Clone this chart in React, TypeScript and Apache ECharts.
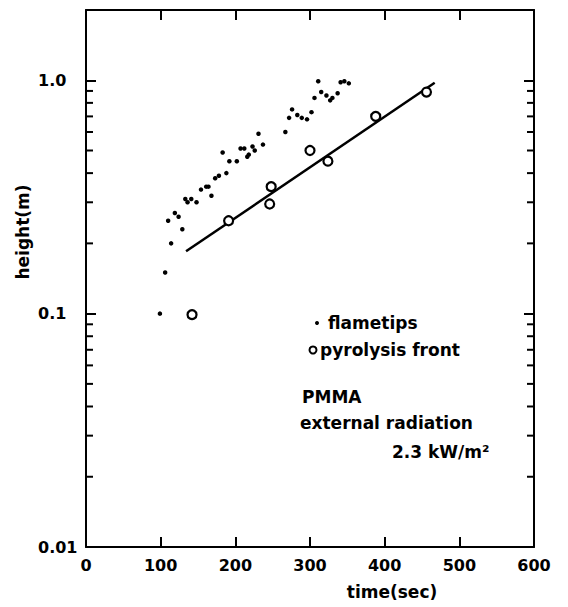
import React, { useEffect, useRef } from "react";
import * as echarts from "echarts";

// time (sec), height (m)
const flametipTimes = [99, 106, 114, 110, 119, 124, 129, 133, 136, 141, 148, 154, 161, 164, 168, 173, 178, 188, 183, 192, 202, 207, 212, 216, 218, 223, 226, 231, 237, 267, 272, 276, 283, 289, 296, 302, 306, 311, 315, 322, 327, 330, 337, 341, 346, 352];
const flametipHeights = [0.10, 0.15, 0.20, 0.25, 0.27, 0.26, 0.23, 0.31, 0.30, 0.31, 0.30, 0.34, 0.35, 0.35, 0.32, 0.38, 0.39, 0.40, 0.49, 0.45, 0.45, 0.51, 0.51, 0.47, 0.48, 0.52, 0.50, 0.59, 0.53, 0.60, 0.69, 0.75, 0.71, 0.69, 0.68, 0.73, 0.84, 0.99, 0.89, 0.86, 0.82, 0.84, 0.88, 0.98, 0.99, 0.97];

const pyrolysisTimes = [142, 191, 246, 248, 300, 324, 388, 456];
const pyrolysisHeights = [0.099, 0.25, 0.295, 0.35, 0.50, 0.45, 0.70, 0.89];

const fitTimes = [134, 467];
const fitHeights = [0.185, 0.975];

const xTickMin = 0;
const xTickMax = 600;
const xTickStep = 100;
const yMin = 0.01;
const yMax = 2;
const yTickLabels: Record<string, string> = { "0.01": "0.01", "0.1": "0.1", "1": "1.0" };
const minorTickValues = [0.02, 0.03, 0.04, 0.05, 0.06, 0.07, 0.08, 0.09, 0.2, 0.3, 0.4, 0.5, 0.6, 0.7, 0.8, 0.9];

const FONT = '"DejaVu Sans", sans-serif';

export default function App() {
  const ref = useRef<HTMLDivElement>(null);
  useEffect(() => {
    if (!ref.current) return;
    const chart = echarts.init(ref.current, null, { renderer: "svg" });
    const axisLine = { show: true, onZero: false, lineStyle: { color: "#000", width: 2 } };
    const labelFmt = (v: number) => {
      for (const k of Object.keys(yTickLabels)) {
        if (Math.abs(Math.log10(v) - Math.log10(parseFloat(k))) < 1e-6) return yTickLabels[k];
      }
      return "";
    };
    const xBase = {
      type: "value" as const,
      min: xTickMin,
      max: xTickMax,
      interval: xTickStep,
      axisLine,
      axisTick: { show: true, inside: true, length: 10, lineStyle: { color: "#000", width: 2 } },
      splitLine: { show: false },
    };
    const yBase = {
      type: "log" as const,
      logBase: 10,
      min: yMin,
      max: yMax,
      axisLine,
      axisTick: { show: true, inside: true, length: 10, lineStyle: { color: "#000", width: 2 } },
      splitLine: { show: false },
    };
    chart.setOption({
      animation: false,
      backgroundColor: "#fff",
      grid: { left: 86, right: 34, top: 10, bottom: 60, containLabel: false },
      xAxis: [
        {
          ...xBase,
          position: "bottom",
          axisLabel: { color: "#000", fontSize: 16, fontWeight: "bold", fontFamily: FONT, margin: 10 },
        },
        { ...xBase, position: "top", axisLabel: { show: false } },
      ],
      yAxis: [
        {
          ...yBase,
          position: "left",
          axisLabel: {
            color: "#000",
            fontSize: 16,
            fontWeight: "bold",
            fontFamily: FONT,
            align: "left",
            margin: 48,
            formatter: labelFmt,
          },
        },
        { ...yBase, position: "right", axisLabel: { show: false } },
      ],
      series: [
        {
          name: "minor ticks",
          type: "custom",
          xAxisIndex: 0,
          yAxisIndex: 0,
          silent: true,
          clip: false,
          encode: { x: 0, y: 1 },
          data: minorTickValues.map((v) => [xTickMin, v]),
          renderItem: (params: any, api: any) => {
            const v = api.value(1);
            const p0 = api.coord([xTickMin, v]);
            const p1 = api.coord([xTickMax, v]);
            const st = { stroke: "#000", lineWidth: 2 };
            return {
              type: "group",
              children: [
                { type: "line", shape: { x1: p0[0], y1: p0[1], x2: p0[0] + 7, y2: p0[1] }, style: st },
                { type: "line", shape: { x1: p1[0] - 7, y1: p1[1], x2: p1[0], y2: p1[1] }, style: st },
              ],
            };
          },
        },
        {
          name: "fit",
          type: "line",
          data: fitTimes.map((t, i) => [t, fitHeights[i]]),
          showSymbol: false,
          lineStyle: { color: "#000", width: 2.5 },
          z: 2,
        },
        {
          name: "flametips",
          type: "scatter",
          data: flametipTimes.map((t, i) => [t, flametipHeights[i]]),
          symbol: "circle",
          symbolSize: 4.5,
          itemStyle: { color: "#000", opacity: 1 },
          z: 3,
        },
        {
          name: "pyrolysis front",
          type: "scatter",
          data: pyrolysisTimes.map((t, i) => [t, pyrolysisHeights[i]]),
          symbol: "circle",
          symbolSize: 9,
          itemStyle: { color: "#fff", borderColor: "#000", borderWidth: 2.2, opacity: 1 },
          z: 4,
        },
      ],
      graphic: [
        {
          type: "text",
          x: 23,
          y: 232,
          rotation: Math.PI / 2,
          style: { text: "height(m)", align: "center", verticalAlign: "middle", fill: "#000", font: `bold 17px ${FONT}` },
        },
        {
          type: "text",
          x: 392,
          y: 592,
          style: { text: "time(sec)", align: "center", verticalAlign: "middle", fill: "#000", font: `bold 17px ${FONT}` },
        },
        { type: "circle", shape: { cx: 317, cy: 323, r: 2 }, style: { fill: "#000" } },
        {
          type: "text",
          x: 328,
          y: 323,
          style: { text: "flametips", align: "left", verticalAlign: "middle", fill: "#000", font: `bold 17px ${FONT}` },
        },
        { type: "circle", shape: { cx: 313, cy: 350, r: 3.5 }, style: { fill: "none", stroke: "#000", lineWidth: 2 } },
        {
          type: "text",
          x: 320,
          y: 350,
          style: { text: "pyrolysis front", align: "left", verticalAlign: "middle", fill: "#000", font: `bold 17px ${FONT}` },
        },
        {
          type: "text",
          x: 302,
          y: 397,
          style: { text: "PMMA", align: "left", verticalAlign: "middle", fill: "#000", font: `bold 17px ${FONT}` },
        },
        {
          type: "text",
          x: 300,
          y: 423,
          style: { text: "external radiation", align: "left", verticalAlign: "middle", fill: "#000", font: `bold 17px ${FONT}` },
        },
        {
          type: "text",
          x: 392,
          y: 452,
          style: { text: "2.3 kW/m²", align: "left", verticalAlign: "middle", fill: "#000", font: `bold 17px ${FONT}` },
        },
      ],
    });
    return () => chart.dispose();
  }, []);
  return (
    <div
      ref={ref}
      style={{ position: "fixed", left: 0, top: 0, width: 568, height: 607, background: "#fff" }}
    />
  );
}
